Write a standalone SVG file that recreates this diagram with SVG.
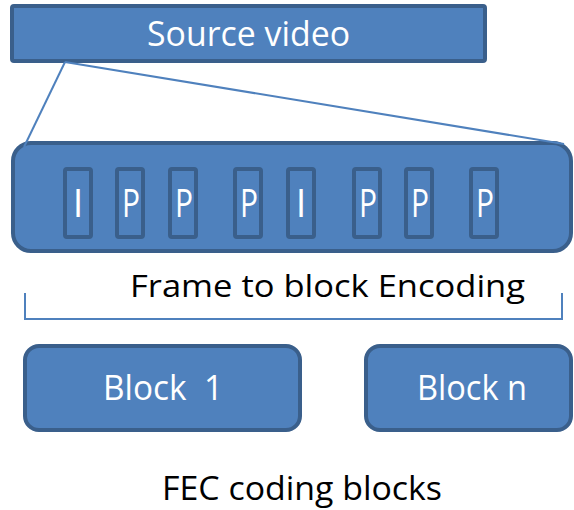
<svg xmlns="http://www.w3.org/2000/svg" width="574" height="510" viewBox="0 0 574 510">
<style>
.box{fill:#4F81BD;stroke:#3A5F8B;stroke-width:4}
.frm{fill:none;stroke:#3A5F8B;stroke-width:4}
.ln{fill:none;stroke:#4F81BD;stroke-width:2}
.wt{fill:#FFFFFF;font-family:"Open Sans","Liberation Sans",sans-serif}
.bk{fill:#000000;font-family:"Open Sans","Liberation Sans",sans-serif}
.fl{font-size:38px;text-anchor:middle}
</style>
<rect width="574" height="510" fill="#FFFFFF"/>
<g id="source-video">
<rect class="box" x="12" y="6" width="473" height="55" rx="2"/>
<text class="wt" x="147" y="46" font-size="35" textLength="203" lengthAdjust="spacingAndGlyphs">Source video</text>
</g>
<g id="frame-container">
<rect class="box" x="13" y="143" width="558" height="108" rx="18"/>
</g>
<g id="connectors">
<path class="ln" d="M65,62 L24,147"/>
<path class="ln" d="M65,62 L564,144"/>
<path class="ln" d="M25,293 V319 H562 V293"/>
</g>
<g id="frames">
<g id="f1"><rect class="frm" x="65" y="169" width="26" height="68" rx="2"/><text class="wt fl" x="78" y="217">I</text></g>
<g id="f2"><rect class="frm" x="117" y="169" width="26" height="68" rx="2"/><text class="wt fl" x="131" y="217" textLength="18" lengthAdjust="spacingAndGlyphs">P</text></g>
<g id="f3"><rect class="frm" x="170" y="169" width="26" height="68" rx="2"/><text class="wt fl" x="184" y="217" textLength="18" lengthAdjust="spacingAndGlyphs">P</text></g>
<g id="f4"><rect class="frm" x="235" y="169" width="26" height="68" rx="2"/><text class="wt fl" x="249" y="217" textLength="18" lengthAdjust="spacingAndGlyphs">P</text></g>
<g id="f5"><rect class="frm" x="288" y="169" width="26" height="68" rx="2"/><text class="wt fl" x="301" y="217">I</text></g>
<g id="f6"><rect class="frm" x="354" y="169" width="26" height="68" rx="2"/><text class="wt fl" x="368" y="217" textLength="18" lengthAdjust="spacingAndGlyphs">P</text></g>
<g id="f7"><rect class="frm" x="406" y="169" width="26" height="68" rx="2"/><text class="wt fl" x="420" y="217" textLength="18" lengthAdjust="spacingAndGlyphs">P</text></g>
<g id="f8"><rect class="frm" x="471" y="169" width="26" height="68" rx="2"/><text class="wt fl" x="485" y="217" textLength="18" lengthAdjust="spacingAndGlyphs">P</text></g>
</g>
<g id="frame-label">
<text class="bk" x="130" y="297" font-size="31" textLength="395" lengthAdjust="spacingAndGlyphs">Frame to block Encoding</text>
</g>
<g id="block-1">
<rect class="box" x="25" y="346" width="275" height="84" rx="14"/>
<text class="wt" x="103" y="400" font-size="35" textLength="120" lengthAdjust="spacingAndGlyphs" style="white-space:pre">Block  1</text>
</g>
<g id="block-n">
<rect class="box" x="366" y="346" width="205" height="84" rx="14"/>
<text class="wt" x="417" y="400" font-size="35" textLength="110" lengthAdjust="spacingAndGlyphs">Block n</text>
</g>
<g id="fec-label">
<text class="bk" x="162" y="500" font-size="33" textLength="280" lengthAdjust="spacingAndGlyphs">FEC coding blocks</text>
</g>
</svg>
